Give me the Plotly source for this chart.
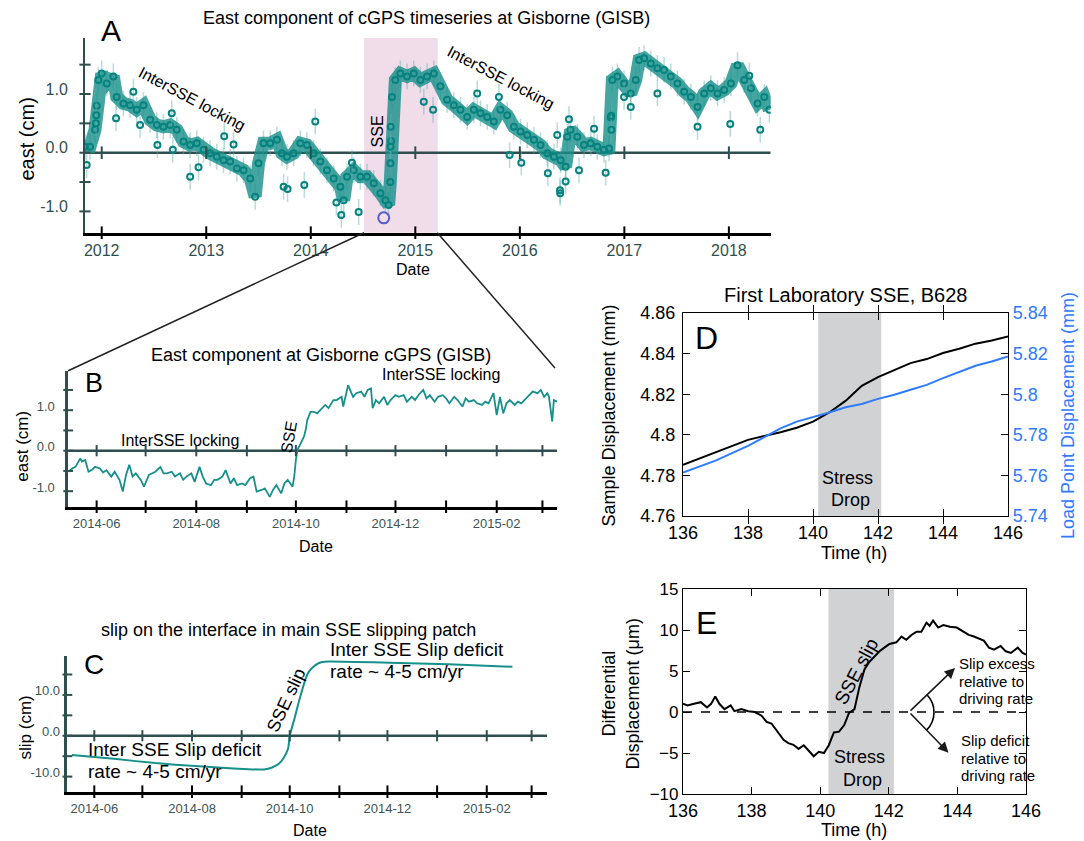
import pandas as pd
import plotly.graph_objects as go

W, H = 1084, 841
def px(x): return x / W
def py(y): return 1 - y / H

FONT = "Liberation Sans, Arial, Helvetica, sans-serif"
TEAL = "#07837f"
TEAL_BAND = "rgba(22,142,137,0.80)"
TEAL_ERR = "rgba(95,178,175,0.45)"
TEAL_LINE = "#16908b"
SLATE = "#2f4f4f"
LABEL_GRAY = "#3b5454"
BLUE = "#2f7bff"
GRAY_FILL = "#d1d2d4"
PINK = "#f1dcea"

# ---------------- Panel A : east component (cm) vs decimal year ----------------
a_year = [2011.840, 2011.888, 2011.936, 2011.952, 2011.968, 2012.000, 2012.048, 2012.111, 2012.143, 2012.207,
          2012.271, 2012.335, 2012.399, 2012.463, 2012.527, 2012.590, 2012.654, 2012.718, 2012.782, 2012.846,
          2012.910, 2012.974, 2013.037, 2013.101, 2013.165, 2013.229, 2013.293, 2013.357, 2013.421, 2013.468,
          2013.500, 2013.548, 2013.612, 2013.676, 2013.724, 2013.772, 2013.836, 2013.900, 2013.963, 2014.027,
          2014.091, 2014.155, 2014.219, 2014.283, 2014.315, 2014.347, 2014.411, 2014.474, 2014.538, 2014.602,
          2014.666, 2014.714, 2014.745, 2014.761, 2014.768, 2014.777, 2014.809, 2014.857, 2014.921, 2014.985,
          2015.049, 2015.113, 2015.177, 2015.240, 2015.304, 2015.368, 2015.432, 2015.496, 2015.560, 2015.624,
          2015.688, 2015.751, 2015.815, 2015.879, 2015.943, 2016.007, 2016.071, 2016.135, 2016.198, 2016.262,
          2016.326, 2016.390, 2016.438, 2016.454, 2016.486, 2016.550, 2016.614, 2016.678, 2016.741, 2016.805,
          2016.853, 2016.869, 2016.885, 2016.933, 2016.997, 2017.061, 2017.109, 2017.141, 2017.189, 2017.253,
          2017.316, 2017.380, 2017.444, 2017.508, 2017.572, 2017.636, 2017.700, 2017.764, 2017.827, 2017.891,
          2017.955, 2018.019, 2018.083, 2018.147, 2018.211, 2018.275, 2018.339, 2018.387]
a_east = [0.10, 0.10, 0.39, 0.80, 1.24, 1.35, 1.18, 1.30, 0.95, 0.84,
          0.81, 0.73, 0.81, 0.56, 0.47, 0.44, 0.47, 0.39, 0.19, 0.13,
          0.16, 0.05, -0.01, -0.07, -0.13, -0.15, -0.27, -0.30, -0.44, -0.75,
          -0.18, 0.16, 0.16, 0.22, -0.01, -0.07, -0.01, 0.16, 0.13, -0.01,
          -0.15, -0.30, -0.44, -0.58, -0.81, -0.41, -0.30, -0.41, -0.41, -0.52,
          -0.69, -0.81, -0.89, -0.50, 0.20, 0.95, 1.24, 1.35, 1.30, 1.35,
          1.24, 1.30, 1.35, 1.13, 0.90, 0.81, 0.73, 0.61, 0.73, 0.67,
          0.61, 0.53, 0.73, 0.64, 0.44, 0.36, 0.30, 0.22, 0.13, -0.01,
          -0.07, -0.13, -0.24, 0.27, 0.39, 0.27, 0.13, 0.16, 0.10, 0.05,
          0.07, 0.60, 1.24, 1.30, 1.18, 1.01, 1.24, 1.58, 1.61, 1.52,
          1.44, 1.41, 1.30, 1.18, 1.04, 0.95, 0.78, 1.01, 1.10, 1.01,
          1.07, 1.18, 1.49, 1.24, 1.10, 0.84, 0.95, 0.73]
a_out_year = [2011.856, 2011.945, 2011.948, 2012.137, 2012.303, 2012.367, 2012.533, 2012.670, 2012.680, 2012.846,
              2012.926, 2013.172, 2013.261, 2013.740, 2013.778, 2013.938, 2014.043, 2014.245, 2014.292, 2014.394,
              2014.458, 2014.762, 2014.763, 2014.765, 2015.081, 2015.170, 2015.592, 2015.800, 2015.902, 2016.014,
              2016.268, 2016.358, 2016.384, 2016.386, 2016.438, 2016.470, 2016.566, 2016.710, 2016.821, 2016.875,
              2016.876, 2016.997, 2017.061, 2017.316, 2017.700, 2018.013, 2018.195, 2018.300]
a_out_east = [-0.21, 0.50, 0.64, 0.585, 1.04, 0.47, 0.13, 0.67, 0.05, -0.41,
              -0.25, 0.28, 0.14, -0.58, -0.62, -0.55, 0.53, -0.85, -1.06, -0.17,
              -1.01, -0.18, 0.10, 0.44, 0.87, 0.73, 1.01, 0.95, -0.04, -0.17,
              -0.35, 0.30, -0.64, -0.69, -0.49, 0.57, -0.30, 0.41, -0.34, 0.63,
              0.39, 0.95, 0.78, 1.01, 0.44, 0.49, 1.31, 0.39]
a_err = 0.22
a_sse_year = [2014.698]
a_sse_east = [-1.11]
a_years = [2012, 2013, 2014, 2015, 2016, 2017, 2018]
a_ytick = [-1.0, -0.5, 0.0, 0.5, 1.0, 1.5]
a_ytext = ["-1.0", "", "0.0", "", "1.0", ""]
A_X = [2011.84, 2018.40]
A_Y = [-1.363, 1.954]
A_PINK = [2014.51, 2015.214]

# ---------------- Panel B : zoom, east (cm) vs day offset from 2014-06-01 ----------------
B_DAY0 = "2014-06-01"
b_day = [-17, -15, -13, -10, -9, -7, -5, -3, -1, 2, 4, 6, 9, 11, 14, 16, 18, 20, 22, 24,
         27, 29, 32, 34, 36, 39, 41, 43, 46, 48, 51, 53, 55, 58, 60, 63, 65, 67, 70, 72,
         74, 77, 79, 82, 84, 86, 89, 91, 94, 96, 98, 101, 103, 106, 108, 110, 113, 115, 117, 120,
         121, 122, 123, 125, 126, 127, 128, 129, 131, 133, 135, 138, 140, 142, 145, 147, 150, 151, 153, 154,
         157, 159, 162, 164, 166, 168, 169, 171, 173, 176, 178, 180, 183, 185, 188, 190, 193, 195, 197, 200,
         202, 204, 207, 209, 212, 214, 216, 219, 221, 224, 226, 228, 231, 233, 236, 238, 240, 243, 245, 247,
         249, 251, 253, 256, 258, 260, 263, 265, 267, 270, 272, 274, 276, 277, 279, 280, 282]
b_east = [-0.52, -0.44, -0.40, -0.19, -0.27, -0.23, -0.52, -0.48, -0.40, -0.44, -0.54, -0.48, -0.64, -0.52, -0.72, -1.01, -0.60, -0.35, -0.64, -0.56,
          -0.72, -0.89, -0.60, -0.56, -0.52, -0.40, -0.56, -0.56, -0.52, -0.64, -0.56, -0.72, -0.64, -0.56, -0.77, -0.40, -0.64, -0.81, -0.85, -0.72,
          -0.72, -0.64, -0.48, -0.81, -0.68, -0.85, -0.81, -0.85, -0.68, -0.64, -1.01, -0.97, -0.93, -1.14, -0.97, -0.85, -1.05, -0.81, -0.72, -0.89,
          -0.64, -0.23, 0.02, 0.18, 0.26, 0.35, 0.51, 0.76, 0.96, 0.96, 0.92, 1.05, 1.13, 1.05, 1.25, 1.25, 1.33, 1.09, 1.50, 1.62,
          1.33, 1.42, 1.46, 1.33, 1.50, 1.54, 1.05, 1.25, 1.17, 1.33, 1.13, 1.25, 1.37, 1.33, 1.37, 1.21, 1.33, 1.25, 1.37, 1.50,
          1.29, 1.37, 1.21, 1.33, 1.37, 1.29, 1.17, 1.33, 1.25, 1.09, 1.29, 1.21, 1.25, 1.17, 1.13, 1.21, 1.17, 1.42, 0.88, 1.33,
          0.92, 1.17, 1.25, 1.13, 1.21, 1.17, 1.29, 1.37, 1.46, 1.42, 1.50, 1.33, 1.42, 1.33, 0.72, 1.25, 1.21]
months = ["2014-06-01", "2014-07-01", "2014-08-01", "2014-09-01", "2014-10-01",
          "2014-11-01", "2014-12-01", "2015-01-01", "2015-02-01", "2015-03-01"]
month_text = ["2014-06", "", "2014-08", "", "2014-10", "", "2014-12", "", "2015-02", ""]
b_ytick = [-1.0, -0.5, 0.0, 0.5, 1.0, 1.5]
b_ytext = ["-1.0", "", "0.0", "", "1.0", ""]
B_X = ["2014-05-14 14:00", "2015-03-09 22:00"]
B_Y = [-1.383, 1.975]

# ---------------- Panel C : slip (cm) vs day offset from 2014-06-01 ----------------
c_day = [-14, 14, 38, 63, 87, 106, 111, 115, 118, 121, 122, 125, 128, 132, 134, 138, 142, 147, 184, 221, 261]
c_slip = [-4.74, -5.72, -6.70, -7.43, -8.00, -8.25, -7.76, -6.94, -5.56, -3.10, 0.0, 4.25, 8.74, 14.05, 15.69,
          17.30, 18.06, 18.20, 17.90, 17.50, 16.90]
c_ytick = [-10, -5, 0, 5, 10, 15]
c_ytext = ["-10.0", "", "0.0", "", "10.0", ""]
C_X = ["2014-05-15 05:00", "2015-03-10 19:00"]
C_Y = [-13.7, 19.6]

# ---------------- Panel D : laboratory displacements ----------------
d_time = [136, 137, 138, 139, 139.5, 140, 140.5, 141, 141.5, 142, 142.5, 143, 143.5, 144, 144.5, 145, 145.5, 146]
d_sample = [4.7852, 4.7913, 4.7975, 4.8013, 4.8035, 4.8065, 4.8110, 4.8167, 4.8241, 4.8284, 4.8320, 4.8353,
            4.8373, 4.8403, 4.8424, 4.8449, 4.8465, 4.8485]
d_load = [5.7614, 5.7673, 5.7745, 5.7832, 5.7865, 5.7887, 5.7910, 5.7936, 5.7952, 5.7977, 5.7997, 5.8022,
          5.8046, 5.8079, 5.8109, 5.8140, 5.8161, 5.8186]
d_ltick = [4.76, 4.78, 4.80, 4.82, 4.84, 4.86]
d_ltext = ["4.76", "4.78", "4.8", "4.82", "4.84", "4.86"]
d_rtick = [5.74, 5.76, 5.78, 5.80, 5.82, 5.84]
d_rtext = ["5.74", "5.76", "5.78", "5.8", "5.82", "5.84"]
D_STRESS = [140.16, 142.10]

# ---------------- Panel E : differential displacement (um) ----------------
e_time = [136.0, 136.13, 136.32, 136.52, 136.70, 136.82, 136.94, 137.06, 137.21, 137.39, 137.50, 137.70, 137.90,
          138.09, 138.29, 138.44, 138.58, 138.78, 138.93, 139.07, 139.22, 139.37, 139.52, 139.66, 139.81, 139.96,
          140.11, 140.25, 140.40, 140.55, 140.70, 140.84, 141.00, 141.14, 141.29, 141.43, 141.58, 141.73, 141.87,
          142.02, 142.22, 142.37, 142.51, 142.66, 142.81, 142.95, 143.10, 143.19, 143.29, 143.44, 143.59, 143.78,
          143.98, 144.18, 144.33, 144.48, 144.62, 144.77, 144.92, 145.07, 145.26, 145.41, 145.56, 145.76, 145.90, 146.0]
e_diff = [1.0, 0.8, 1.0, 1.2, 0.55, 1.0, 1.9, 1.0, 0.35, 0.8, 0.1, 0.35, 0.1,
          0.0, -0.45, -1.2, -1.4, -2.5, -3.4, -3.8, -4.0, -4.5, -4.05, -4.7, -5.4, -4.85,
          -5.0, -4.05, -2.5, -2.4, -1.6, -0.1, 0.35, 3.0, 5.2, 6.1, 6.75, 7.4, 7.85,
          8.3, 8.5, 9.2, 8.8, 9.4, 9.8, 9.8, 10.9, 10.5, 11.15, 10.3, 10.6, 10.4,
          10.3, 9.8, 9.4, 9.2, 8.95, 8.7, 7.85, 7.6, 8.05, 7.4, 7.2, 7.85, 7.2, 7.0]
E_STRESS = [140.24, 142.15]
lab_ticks = [136, 138, 140, 142, 144, 146]

fig = go.Figure()

def marks(x, y, xa, ya, symbol, size, color, width=2):
    return go.Scatter(x=x, y=y, xaxis=xa, yaxis=ya, mode="markers", cliponaxis=False,
                      marker=dict(symbol=symbol, size=size, color=color, line=dict(color=color, width=width)),
                      hoverinfo="skip", showlegend=False)

# ---- A traces
fig.add_trace(go.Scatter(x=a_year, y=a_east, xaxis="x", yaxis="y", mode="lines+markers",
                         line=dict(color=TEAL_BAND, width=13),
                         marker=dict(symbol="circle-open", size=6, color=TEAL, line=dict(width=2, color=TEAL)),
                         error_y=dict(type="constant", value=a_err, color=TEAL_ERR, thickness=1.5, width=0),
                         showlegend=False))
fig.add_trace(go.Scatter(x=a_out_year, y=a_out_east, xaxis="x", yaxis="y", mode="markers",
                         marker=dict(symbol="circle-open", size=6, color=TEAL, line=dict(width=2, color=TEAL)),
                         error_y=dict(type="constant", value=a_err, color=TEAL_ERR, thickness=1.5, width=0),
                         showlegend=False))
fig.add_trace(go.Scatter(x=a_sse_year, y=a_sse_east, xaxis="x", yaxis="y", mode="markers",
                         marker=dict(symbol="circle-open", size=11, color="#5a5ccc", line=dict(width=2, color="#5a5ccc")),
                         showlegend=False))
fig.add_trace(marks(a_years, [A_Y[0]] * len(a_years), "x", "y", "line-ns-open", 9, "black", 2))
fig.add_trace(marks(a_years, [0] * len(a_years), "x", "y", "line-ns-open", 9, SLATE, 2))
fig.add_trace(marks([A_X[0]] * len(a_ytick), a_ytick, "x", "y", "line-ew-open", 8, SLATE, 2))

# ---- B traces
b_dates = pd.Timestamp(B_DAY0) + pd.to_timedelta(b_day, unit="D")
fig.add_trace(go.Scatter(x=b_dates, y=b_east, xaxis="x2", yaxis="y2", mode="lines",
                         line=dict(color=TEAL_LINE, width=1.8), showlegend=False))
fig.add_trace(marks(months, [B_Y[0]] * len(months), "x2", "y2", "line-ns-open", 9, "black", 2))
fig.add_trace(marks(months, [0] * len(months), "x2", "y2", "line-ns-open", 8, SLATE, 2))
fig.add_trace(marks([B_X[0]] * len(b_ytick), b_ytick, "x2", "y2", "line-ew-open", 7, SLATE, 2))

# ---- C traces
c_dates = pd.Timestamp(B_DAY0) + pd.to_timedelta(c_day, unit="D")
fig.add_trace(go.Scatter(x=c_dates, y=c_slip, xaxis="x3", yaxis="y3", mode="lines",
                         line=dict(color=TEAL_LINE, width=2, shape="spline", smoothing=0.6), showlegend=False))
fig.add_trace(marks(months, [C_Y[0]] * len(months), "x3", "y3", "line-ns-open", 9, "black", 2))
fig.add_trace(marks(months, [0] * len(months), "x3", "y3", "line-ns-open", 8, SLATE, 2))
fig.add_trace(marks([C_X[0]] * len(c_ytick), c_ytick, "x3", "y3", "line-ew-open", 7, SLATE, 2))

# ---- D traces
fig.add_trace(go.Scatter(x=d_time, y=d_sample, xaxis="x4", yaxis="y4", mode="lines",
                         line=dict(color="black", width=2), showlegend=False))
fig.add_trace(go.Scatter(x=d_time, y=d_load, xaxis="x4", yaxis="y5", mode="lines",
                         line=dict(color=BLUE, width=2), showlegend=False))

# ---- E traces
fig.add_trace(go.Scatter(x=e_time, y=e_diff, xaxis="x5", yaxis="y6", mode="lines",
                         line=dict(color="black", width=2), showlegend=False))

shapes = [
    dict(type="rect", xref="x", yref="y domain", x0=A_PINK[0], x1=A_PINK[1], y0=0, y1=1,
         fillcolor=PINK, line=dict(width=0), layer="below"),
    dict(type="line", xref="x", yref="y", x0=A_X[0], x1=A_X[1], y0=0, y1=0,
         line=dict(color=SLATE, width=2.5), layer="below"),
    dict(type="line", xref="x2", yref="y2", x0=B_X[0], x1=B_X[1], y0=0, y1=0,
         line=dict(color=SLATE, width=2.5), layer="below"),
    dict(type="line", xref="x3", yref="y3", x0=C_X[0], x1=C_X[1], y0=0, y1=0,
         line=dict(color=SLATE, width=2.5), layer="below"),
    dict(type="line", xref="paper", yref="paper", x0=px(364), y0=py(232.7), x1=px(68.2), y1=py(370.7),
         line=dict(color="#222222", width=1.5)),
    dict(type="line", xref="paper", yref="paper", x0=px(437.3), y0=py(232.7), x1=px(555), y1=py(368),
         line=dict(color="#222222", width=1.5)),
    dict(type="rect", xref="x4", yref="y4 domain", x0=D_STRESS[0], x1=D_STRESS[1], y0=0, y1=1,
         fillcolor=GRAY_FILL, line=dict(width=0), layer="below"),
    dict(type="rect", xref="x5", yref="y6 domain", x0=E_STRESS[0], x1=E_STRESS[1], y0=0, y1=1,
         fillcolor=GRAY_FILL, line=dict(width=0), layer="below"),
    dict(type="line", xref="x5", yref="y6", x0=136, x1=146, y0=0, y1=0,
         line=dict(color="black", width=1.5, dash="dash")),
    dict(type="path", xref="x5", yref="y6",
         path="M 143.111,2.10 C 143.388,0.915 143.385,-1.03 143.105,-2.18",
         line=dict(color="black", width=1.6)),
]

def note(text, x, y, size, angle=0, color="black", xanchor="center", yanchor="middle"):
    return dict(text=text, x=px(x), y=py(y), xref="paper", yref="paper", showarrow=False,
                font=dict(family=FONT, size=size, color=color), textangle=angle,
                xanchor=xanchor, yanchor=yanchor)

ann = [
    note("East component of cGPS timeseries at Gisborne (GISB)", 426, 18, 18),
    note("A", 111, 30, 30),
    note("InterSSE locking", 191.5, 98.5, 16, 28),
    note("InterSSE locking", 501, 77, 16, 27.6),
    note("SSE", 377.7, 131.7, 16, -90),
    note("east (cm)", 26.5, 139, 20, -90),
    note("Date", 413, 269, 16),
    note("East component at Gisborne cGPS (GISB)", 321.4, 355, 18),
    note("B", 93.5, 383.3, 27),
    note("InterSSE locking", 179.6, 440, 16),
    note("InterSSE locking", 440.6, 374.3, 16),
    note("SSE", 288.7, 437.3, 16, -80),
    note("east (cm)", 23, 446.7, 17, -90),
    note("Date", 315.5, 546.7, 16),
    note("slip on the interface in main SSE slipping patch", 288.3, 630, 18),
    note("C", 93.5, 664, 28),
    note("Inter SSE Slip deficit", 85.7, 749.3, 19, xanchor="left"),
    note("rate ~ 4-5 cm/yr", 85.7, 771.7, 19, xanchor="left"),
    note("Inter SSE Slip deficit", 328.4, 649.3, 19, xanchor="left"),
    note("rate ~ 4-5 cm/yr", 328.4, 671.7, 19, xanchor="left"),
    note("SSE slip", 286.3, 700, 18, -65),
    note("slip (cm)", 25, 727.5, 17, -90),
    note("Date", 309.7, 830.7, 16),
    note("First Laboratory SSE, B628", 845.6, 295, 20),
    note("D", 706, 338, 32),
    note("Stress", 847.6, 478.3, 18),
    note("Drop", 850, 500, 18),
    note("Sample Displacement (mm)", 608.5, 416, 18, -90),
    note("Load Point Displacement (mm)", 1068, 416, 18, -90, color=BLUE),
    note("Time (h)", 854, 553, 18),
    note("E", 706, 623, 32),
    note("SSE slip", 856, 671, 19, -62),
    note("Stress", 859.4, 756.7, 18),
    note("Drop", 862, 780, 18),
    note("Slip excess", 957, 663.3, 15, xanchor="left"),
    note("relative to", 957, 681, 15, xanchor="left"),
    note("driving rate", 957, 698.3, 15, xanchor="left"),
    note("Slip deficit", 958.7, 740.7, 15, xanchor="left"),
    note("relative to", 958.7, 758.3, 15, xanchor="left"),
    note("driving rate", 958.7, 775.7, 15, xanchor="left"),
    note("Differential", 608.5, 694, 18, -90),
    note("Displacement (\u03bcm)", 632, 694.5, 18, -90),
    note("Time (h)", 854.3, 830, 18),
]
for tip_x, tip_y in [(143.93, 5.37), (143.74, -4.96)]:
    ann.append(dict(x=tip_x, y=tip_y, ax=142.59, ay=0, xref="x5", yref="y6", axref="x5", ayref="y6",
                    text="", showarrow=True, arrowhead=2, arrowsize=1.3, arrowwidth=1.6, arrowcolor="#1a1a1a"))

base = dict(showgrid=False, zeroline=False, fixedrange=True, automargin=False)
tf_slate = dict(family=FONT, size=16, color=SLATE)
tf_small = dict(family=FONT, size=13, color=LABEL_GRAY)
tf_lab = dict(family=FONT, size=18, color="black")

fig.update_layout(
    template="none",
    width=W, height=H, autosize=False, margin=dict(l=0, r=0, t=0, b=0, pad=0, autoexpand=False),
    paper_bgcolor="white", plot_bgcolor="rgba(0,0,0,0)",
    font=dict(family=FONT, color="black"), showlegend=False,
    shapes=shapes, annotations=ann,
    xaxis=dict(base, domain=[px(85), px(770.7)], anchor="y", range=A_X, showline=True, linecolor="black",
               linewidth=2.5, ticks="", tickmode="array", tickvals=a_years, ticktext=[str(v) for v in a_years],
               tickfont=tf_slate, ticklabelstandoff=1),
    yaxis=dict(base, domain=[py(232.7), py(38)], anchor="x", range=A_Y, showline=True, linecolor=SLATE,
               linewidth=2, ticks="", tickmode="array", tickvals=a_ytick, ticktext=a_ytext,
               tickfont=tf_slate, ticklabelshift=-5, ticklabelstandoff=12),
    xaxis2=dict(base, type="date", domain=[px(68.2), px(557)], anchor="y2", range=B_X, showline=True,
                linecolor="black", linewidth=2.5, ticks="", tickmode="array", tickvals=months,
                ticktext=month_text, tickfont=tf_small, ticklabelstandoff=3),
    yaxis2=dict(base, domain=[py(506.7), py(370.7)], anchor="x2", range=B_Y, showline=True, linecolor=SLATE,
                linewidth=2.5, ticks="", tickmode="array", tickvals=b_ytick, ticktext=b_ytext,
                tickfont=tf_small, ticklabelshift=-4, ticklabelstandoff=8),
    xaxis3=dict(base, type="date", domain=[px(67.4), px(547.3)], anchor="y3", range=C_X, showline=True,
                linecolor="black", linewidth=2.5, ticks="", tickmode="array", tickvals=months,
                ticktext=month_text, tickfont=tf_small, ticklabelstandoff=3),
    yaxis3=dict(base, domain=[py(791.7), py(655.7)], anchor="x3", range=C_Y, showline=True, linecolor=SLATE,
                linewidth=2.5, ticks="", tickmode="array", tickvals=c_ytick, ticktext=c_ytext,
                tickfont=tf_small, ticklabelshift=-4, ticklabelstandoff=2),
    xaxis4=dict(base, domain=[px(683), px(1008)], anchor="y4", range=[136, 146], showline=True,
                linecolor="black", linewidth=1.2, mirror="allticks", ticks="inside", ticklen=7,
                tickcolor="black", tickvals=lab_ticks, tickfont=tf_lab),
    yaxis4=dict(base, domain=[py(516), py(313)], anchor="x4", range=[4.76, 4.86], showline=True,
                linecolor="black", linewidth=1.2, mirror=True, ticks="inside", ticklen=7, tickcolor="black",
                tickmode="array", tickvals=d_ltick, ticktext=d_ltext, tickfont=tf_lab, ticklabelstandoff=3),
    yaxis5=dict(base, overlaying="y4", side="right", anchor="x4", range=[5.74, 5.84], showline=True,
                linecolor="black", linewidth=1.2, ticks="inside", ticklen=7, tickcolor="black",
                tickmode="array", tickvals=d_rtick, ticktext=d_rtext,
                tickfont=dict(family=FONT, size=18, color=BLUE)),
    xaxis5=dict(base, domain=[px(683), px(1026)], anchor="y6", range=[136, 146], showline=True,
                linecolor="black", linewidth=1.2, mirror="allticks", ticks="inside", ticklen=7,
                tickcolor="black", tickvals=lab_ticks, tickfont=tf_lab),
    yaxis6=dict(base, domain=[py(794), py(589)], anchor="x5", range=[-10, 15], showline=True,
                linecolor="black", linewidth=1.2, mirror="allticks", ticks="inside", ticklen=7,
                tickcolor="black", dtick=5, tickfont=dict(family=FONT, size=17, color="black")),
)

fig.write_html("out.html")
